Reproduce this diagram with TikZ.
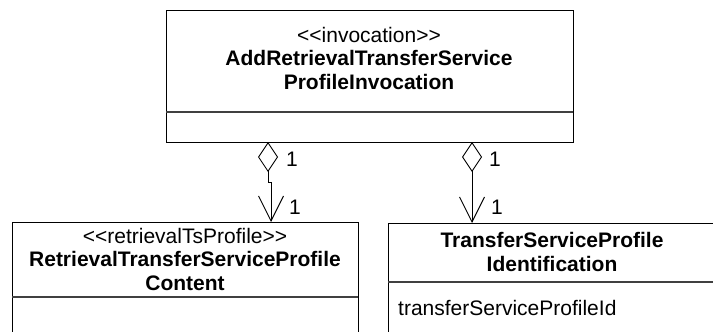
\documentclass[tikz,border=0pt]{standalone}
\usepackage{fontspec}
\setmainfont{Liberation Sans}
\usetikzlibrary{arrows.meta}
\newcommand{\lguil}{<\kern0pt<}
\newcommand{\rguil}{>\kern0pt>}
\tikzset{
  umlbox/.style={draw=black, line width=0.9pt},
  divline/.style={draw=black!75, line width=1.2pt},
  txt/.style={inner sep=0pt, align=center, font=\fontsize{21}{23.5}\selectfont},
  mult/.style={inner sep=0pt, font=\fontsize{21}{23.5}\selectfont},
  assoc/.style={draw=black, line width=0.9pt,
    {Diamond[open, fill=white, length=30pt, width=20pt, line width=0.9pt]}-{Straight Barb[length=25pt, width=25pt, line width=0.9pt]}}
}
\begin{document}
\begin{tikzpicture}[x=1pt,y=-1pt]
\useasboundingbox (0,0) rectangle (713,332);
% top box
\draw[umlbox] (166,10) rectangle (573,142);
\draw[divline] (166,112) -- (573,112);
\node[txt] (topname) at (369,58) {\lguil invocation\rguil\\\textbf{AddRetrievalTransferService}\\\textbf{ProfileInvocation}};
% bottom left box
\draw[umlbox] (12,340) -- (12,222) -- (358,222) -- (358,340);
\draw[divline] (12,297) -- (358,297);
\node[txt] (leftname) at (185,259) {\lguil retrievalTsProfile\rguil\\\textbf{RetrievalTransferServiceProfile}\\\textbf{Content}};
% bottom right box
\draw[umlbox] (388,340) -- (388,223) -- (720,223) -- (720,340);
\draw[divline] (388,282) -- (720,282);
\node[txt] (rightname) at (552,252) {\textbf{TransferServiceProfile}\\\textbf{Identification}};
\node[txt, anchor=west] (attr) at (398,308) {transferServiceProfileId};
% connectors
\coordinate (a1) at (268,142);
\coordinate (j1) at (268,182);
\coordinate (b1) at (271,222);
\coordinate (a2) at (472,142);
\coordinate (b2) at (472,223);
\draw[assoc] (a1) -- (j1) -| (b1);
\draw[assoc] (a2) -- (b2);
\node[mult] (m1) at (292,159) {1};
\node[mult] (m2) at (295,207) {1};
\node[mult] (m3) at (495,159) {1};
\node[mult] (m4) at (497,207) {1};
\end{tikzpicture}
\end{document}
